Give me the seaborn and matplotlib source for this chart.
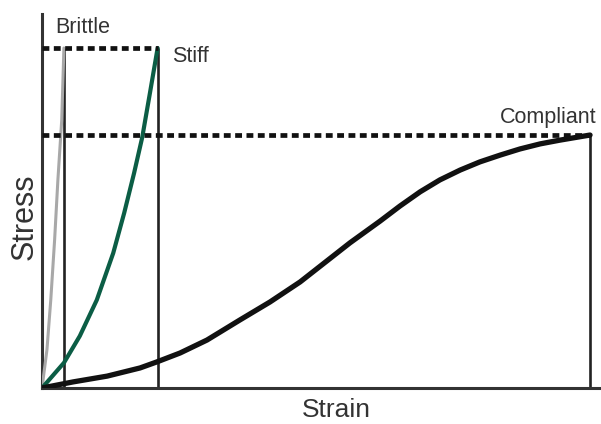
import numpy as np
import pandas as pd
import matplotlib
matplotlib.use("Agg")
import matplotlib.pyplot as plt
import seaborn as sns

# ==============================
# Data (strain/stress in arbitrary units)
# ==============================
brittle_strain = [0.0, 0.09, 0.16, 0.23, 0.29, 0.36, 0.40]
brittle_stress = [0.0, 1.12, 2.59, 4.35, 6.12, 7.88, 10.0]

stiff_strain = [0.0, 0.40, 0.69, 1.00, 1.30, 1.50, 1.68, 1.83, 1.97, 2.11]
stiff_stress = [0.0, 0.74, 1.53, 2.59, 3.97, 5.15, 6.32, 7.38, 8.68, 10.0]

compliant_strain = [0.0, 0.57, 1.19, 1.79, 2.10, 2.52, 3.01, 3.61, 4.16, 4.71, 5.62,
                    6.17, 6.53, 6.90, 7.26, 7.63, 7.99, 8.36, 8.72, 9.09, 9.45, 10.0]
compliant_stress = [0.0, 0.18, 0.35, 0.59, 0.77, 1.03, 1.41, 2.00, 2.53, 3.12, 4.27,
                    4.91, 5.35, 5.77, 6.12, 6.41, 6.65, 6.85, 7.03, 7.18, 7.29, 7.44]

# failure points: (strain, stress) of each material
fail_names = ["Brittle", "Stiff", "Compliant"]
fail_strain = [0.40, 2.12, 10.0]
fail_stress = [10.0, 10.0, 7.44]

# ==============================
# Style
# ==============================
sns.set_style("white")
plt.rcParams["font.family"] = ["Liberation Sans", "DejaVu Sans"]
TEXT = "#333333"

fig = plt.figure(figsize=(6.01, 4.24), dpi=100)
ax = fig.add_axes([42 / 601, 36 / 424, 559 / 601, 374 / 424])

# ==============================
# Curves
# ==============================
sns.lineplot(x=brittle_strain, y=brittle_stress, ax=ax, color="#a8a8a8",
             lw=2.2, sort=False, zorder=3)
sns.lineplot(x=stiff_strain, y=stiff_stress, ax=ax, color="#0b5d45",
             lw=3.0, sort=False, zorder=3)
sns.lineplot(x=compliant_strain, y=compliant_stress, ax=ax, color="#111111",
             lw=3.8, sort=False, zorder=3, solid_capstyle="round")

# vertical lines at failure strain
ax.vlines(fail_strain, 0, fail_stress, color="#222222", lw=1.9, zorder=2)

# dashed lines at failure stress (stiff and compliant)
for s, y in zip(fail_strain[1:], fail_stress[1:]):
    ax.plot([0, s], [y, y], color="#111111", lw=3.4, dashes=(1.45, 0.95),
            dash_capstyle="butt", zorder=4)

# labels
ax.text(0.24, 10.44, fail_names[0], fontsize=15.5, color=TEXT, va="baseline")
ax.text(2.37, 9.59, fail_names[1], fontsize=15.5, color=TEXT, va="baseline")
ax.text(10.12, 7.79, fail_names[2], fontsize=15.5, color=TEXT, va="baseline", ha="right")

ax.set_xlim(0, 10.2)
ax.set_ylim(0, 11.0)
ax.set_xticks([])
ax.set_yticks([])
for side in ["top", "right"]:
    ax.spines[side].set_visible(False)
for side in ["left", "bottom"]:
    ax.spines[side].set_color("#333333")
    ax.spines[side].set_linewidth(2.2)

fig.text(336 / 601, 7 / 424, "Strain", fontsize=19, color=TEXT,
         ha="center", va="baseline")
fig.text(25 / 601, (424 - 217) / 424, "Stress", fontsize=22, color=TEXT,
         ha="center", va="center", rotation=90)

fig.savefig("out.png", dpi=100)
